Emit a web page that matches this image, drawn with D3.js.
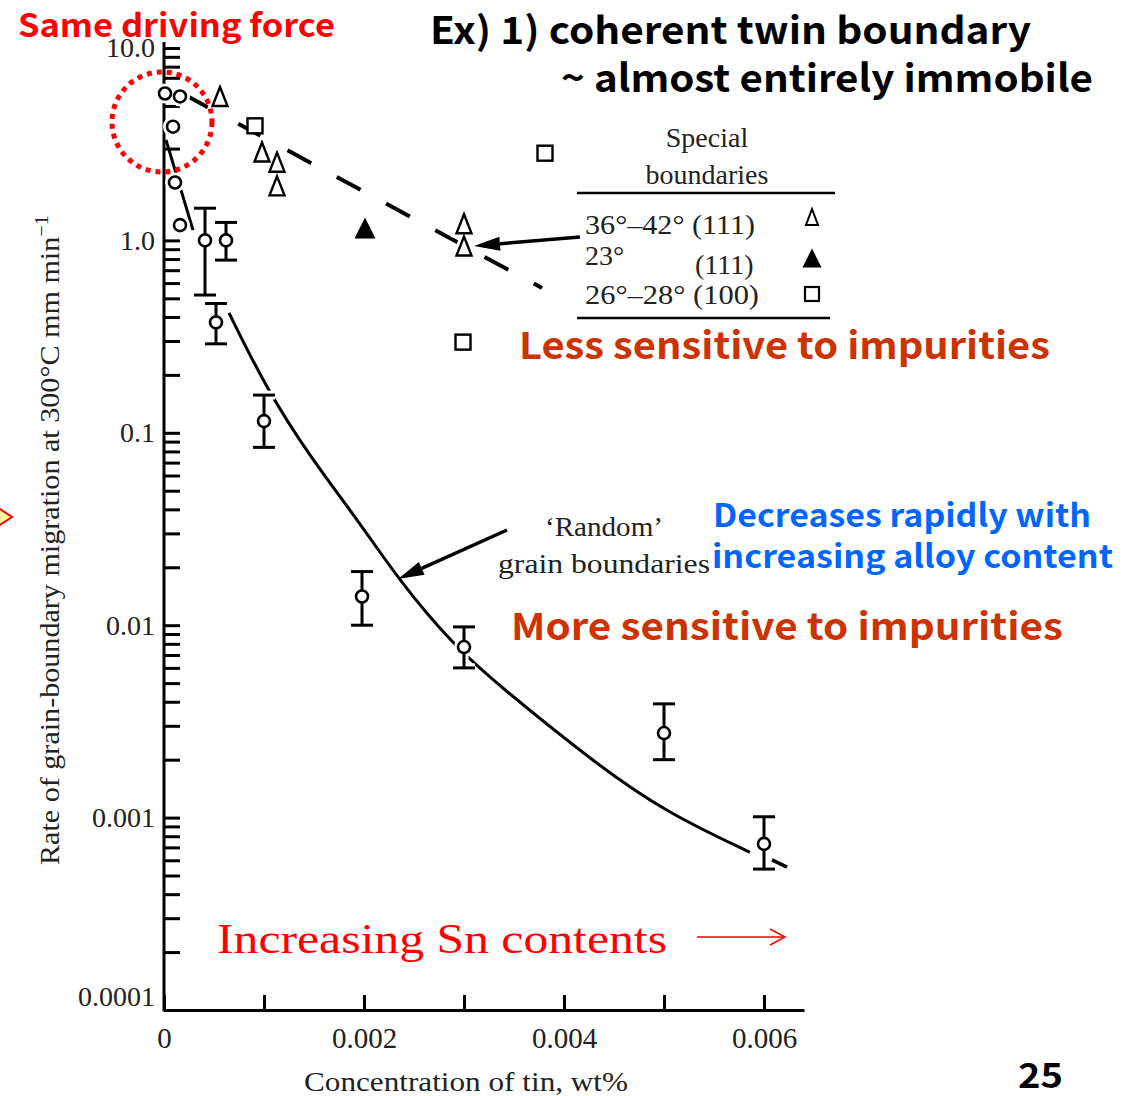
<!DOCTYPE html>
<html>
<head>
<title>Grain boundary migration vs tin</title>
<style>
  body, html { margin: 0; padding: 0; background: #fff; }
</style>
</head>
<body>
<svg id="svg" width="1135" height="1096"></svg>
<script src="https://d3js.org/d3.v7.min.js"></script>
<script>
// 'Random' grain boundaries (open circles), rate in mm/min, with error bars
const randomX    = [0.00001, 0.00016, 0.00009, 0.00011, 0.00016, 0.00041, 0.00062, 0.00052, 0.001, 0.00198, 0.003, 0.005, 0.006]
const randomRate = [5.8, 5.6, 3.9, 2.0, 1.2, 1.0, 1.0, 0.375, 0.115, 0.0141, 0.0077, 0.00275, 0.00073]
const randomLow  = [null, null, null, null, null, 0.52, 0.79, 0.29, 0.084, 0.010, 0.0060, 0.0020, 0.00054]
const randomHigh = [null, null, null, null, null, 1.47, 1.24, 0.47, 0.157, 0.019, 0.0098, 0.0039, 0.00101]

// special boundaries
const tri3642X    = [0.00056, 0.00098, 0.00113, 0.00113, 0.003, 0.003]
const tri3642Rate = [5.6, 2.88, 2.55, 1.92, 1.22, 0.935]
const tri23X      = [0.00201]
const tri23Rate   = [1.16]
const sq2628X     = [0.00091, 0.00381, 0.00299]
const sq2628Rate  = [3.94, 2.84, 0.296]

// fitted curves
const steepCurveX    = [0.00002, 0.00029]
const steepCurveRate = [3.33, 1.13]
const mainCurveX     = [0.00065, 0.00101, 0.00146, 0.00196, 0.00234, 0.00289, 0.00336, 0.00436, 0.00503, 0.00586]
const mainCurveRate  = [0.42, 0.175, 0.0748, 0.034, 0.0174, 0.0079, 0.0048, 0.00183, 0.00106, 0.00066]
const tailCurveX     = [0.00608, 0.00623]
const tailCurveRate  = [0.000603, 0.000553]
const specialLineX    = [0.00025, 0.00378]
const specialLineRate = [5.56, 0.566]

// axes
const yTickValues = [0.0001, 0.001, 0.01, 0.1, 1, 10]
const yTickLabels = ['0.0001', '0.001', '0.01', '0.1', '1.0', '10.0']
const xTickValues = [0, 0.001, 0.002, 0.003, 0.004, 0.005, 0.006]
const xTickLabels = ['0', '', '0.002', '', '0.004', '', '0.006']

const legendLabels = ['36°–42° (111)', '23°', '26°–28° (100)']

const serif = 'Liberation Serif'
const sans = '"Noto Sans CJK KR", "Noto Sans", sans-serif'

const svg = d3.select('#svg')

const x = d3.scaleLinear().domain([0, 0.0064]).range([164, 804])
const y = d3.scaleLog().domain([0.0001, 10]).range([1010, 48])

// ---- axes ----
const yAxis = svg.append('g')
  .attr('transform', 'translate(164,0)')
  .call(d3.axisRight(y).tickFormat('').tickSize(16).tickSizeOuter(0))
yAxis.select('.domain').remove()
yAxis.selectAll('line').attr('stroke', '#000').attr('stroke-width', 3)

svg.append('line')
  .attr('x1', 164).attr('x2', 164)
  .attr('y1', 42).attr('y2', 1011.5)
  .attr('stroke', '#000').attr('stroke-width', 3)

const yLabels = svg.append('g')
  .attr('transform', 'translate(164,0)')
  .call(d3.axisLeft(y).tickValues(yTickValues)
    .tickFormat((d, i) => yTickLabels[i]).tickSize(0).tickPadding(9))
yLabels.select('.domain').remove()
yLabels.selectAll('text')
  .attr('font-family', serif)
  .attr('font-size', 28)
  .attr('fill', '#222')
  .attr('dy', (d, i) => i === 0 ? '-0.15em' : '0.32em')

const xAxis = svg.append('g')
  .attr('transform', 'translate(0,1010)')
  .call(d3.axisBottom(x).tickValues(xTickValues)
    .tickFormat((d, i) => xTickLabels[i]).tickSize(-15).tickSizeOuter(0).tickPadding(17))
xAxis.select('.domain').attr('stroke', '#000').attr('stroke-width', 3)
xAxis.selectAll('line').attr('stroke', '#000').attr('stroke-width', 3)
xAxis.selectAll('text')
  .attr('font-family', serif)
  .attr('font-size', 29)
  .attr('fill', '#222')

svg.append('text')
  .attr('x', 304).attr('y', 1091)
  .attr('font-family', serif)
  .attr('font-size', 28).attr('fill', '#222')
  .attr('textLength', 324).attr('lengthAdjust', 'spacingAndGlyphs')
  .text('Concentration of tin, wt%')

const ylab = svg.append('text')
  .attr('transform', 'translate(59,865) rotate(-90)')
  .attr('font-family', serif)
  .attr('font-size', 28).attr('fill', '#222')
  .attr('textLength', 650).attr('lengthAdjust', 'spacingAndGlyphs')
ylab.append('tspan').text('Rate of grain-boundary migration at 300°C mm min')
ylab.append('tspan').attr('dy', -11).attr('font-size', 19).text('−1')

// ---- curves ----
const smooth = d3.line().x(d => x(d[0])).y(d => y(d[1])).curve(d3.curveBasis)
const straight = d3.line().x(d => x(d[0])).y(d => y(d[1]))
const pairs = (xs, ys) => xs.map((v, i) => [v, ys[i]])

svg.append('path').datum(pairs(steepCurveX, steepCurveRate))
  .attr('d', straight).attr('fill', 'none').attr('stroke', '#000').attr('stroke-width', 3)
svg.append('path').datum(pairs(mainCurveX, mainCurveRate))
  .attr('d', smooth).attr('fill', 'none').attr('stroke', '#000').attr('stroke-width', 3)
svg.append('path').datum(pairs(tailCurveX, tailCurveRate))
  .attr('d', straight).attr('fill', 'none').attr('stroke', '#000').attr('stroke-width', 3.5)
svg.append('path').datum(pairs(specialLineX, specialLineRate))
  .attr('d', straight)
  .attr('fill', 'none').attr('stroke', '#000').attr('stroke-width', 4)
  .attr('stroke-dasharray', '27,29')

// ---- markers ----
const randomPts = randomX.map((v, i) => ({ x: v, r: randomRate[i], lo: randomLow[i], hi: randomHigh[i] }))
const withErr = randomPts.filter(d => d.lo !== null)

function drawErrorBars(g, color, width) {
  g.selectAll(null).data(withErr).enter().append('line')
    .attr('x1', d => x(d.x)).attr('x2', d => x(d.x))
    .attr('y1', d => y(d.lo)).attr('y2', d => y(d.hi))
    .attr('stroke', color).attr('stroke-width', width)
  ;['lo', 'hi'].forEach(k => {
    g.selectAll(null).data(withErr).enter().append('line')
      .attr('x1', d => x(d.x) - 11).attr('x2', d => x(d.x) + 11)
      .attr('y1', d => y(d[k])).attr('y2', d => y(d[k]))
      .attr('stroke', color).attr('stroke-width', width)
  })
}

const triPath = (w, h) => `M0,${-h / 2}L${w / 2},${h / 2}L${-w / 2},${h / 2}Z`

// white halos so that curves break around the symbols
const halo = svg.append('g')
drawErrorBars(halo, '#fff', 9)
halo.selectAll(null).data(randomPts).enter().append('circle')
  .attr('cx', d => x(d.x)).attr('cy', d => y(d.r)).attr('r', 10).attr('fill', '#fff')
halo.selectAll(null).data(pairs(tri3642X, tri3642Rate)).enter().append('path')
  .attr('transform', d => `translate(${x(d[0])},${y(d[1])})`)
  .attr('d', triPath(15, 19)).attr('fill', '#fff').attr('stroke', '#fff').attr('stroke-width', 8)

const marks = svg.append('g')
drawErrorBars(marks, '#000', 3)
marks.selectAll(null).data(randomPts).enter().append('circle')
  .attr('cx', d => x(d.x)).attr('cy', d => y(d.r)).attr('r', 6)
  .attr('fill', '#fff').attr('stroke', '#000').attr('stroke-width', 2.6)

marks.selectAll(null).data(pairs(tri3642X, tri3642Rate)).enter().append('path')
  .attr('transform', d => `translate(${x(d[0])},${y(d[1])})`)
  .attr('d', triPath(15, 19)).attr('fill', '#fff').attr('stroke', '#000').attr('stroke-width', 2.4)

marks.selectAll(null).data(pairs(tri23X, tri23Rate)).enter().append('path')
  .attr('transform', d => `translate(${x(d[0])},${y(d[1])})`)
  .attr('d', triPath(21, 21)).attr('fill', '#000')

marks.selectAll(null).data(pairs(sq2628X, sq2628Rate)).enter().append('rect')
  .attr('x', d => x(d[0]) - 7.5).attr('y', d => y(d[1]) - 7.5)
  .attr('width', 15).attr('height', 15)
  .attr('fill', '#fff').attr('stroke', '#000').attr('stroke-width', 2.4)

// ---- legend ----
const lg = svg.append('g').attr('font-family', serif).attr('fill', '#222').attr('font-size', 28)
lg.append('text').attr('x', 707).attr('y', 147).attr('text-anchor', 'middle').text('Special')
lg.append('text').attr('x', 707).attr('y', 184).attr('text-anchor', 'middle').text('boundaries')
lg.append('line').attr('x1', 577).attr('x2', 835).attr('y1', 193).attr('y2', 193)
  .attr('stroke', '#000').attr('stroke-width', 2.5)
lg.append('line').attr('x1', 577).attr('x2', 830).attr('y1', 318).attr('y2', 318)
  .attr('stroke', '#000').attr('stroke-width', 2.5)
lg.append('text').attr('x', 585).attr('y', 234)
  .attr('textLength', 170).attr('lengthAdjust', 'spacingAndGlyphs').text(legendLabels[0])
lg.append('text').attr('x', 585).attr('y', 265).text(legendLabels[1])
lg.append('text').attr('x', 695).attr('y', 274).text('(111)')
lg.append('text').attr('x', 585).attr('y', 304)
  .attr('textLength', 174).attr('lengthAdjust', 'spacingAndGlyphs').text(legendLabels[2])
lg.append('path').attr('transform', 'translate(812,217)').attr('d', triPath(12, 16))
  .attr('fill', '#fff').attr('stroke', '#000').attr('stroke-width', 2)
lg.append('path').attr('transform', 'translate(812,258)').attr('d', triPath(19, 19)).attr('fill', '#000')
lg.append('rect').attr('x', 805).attr('y', 287).attr('width', 14).attr('height', 14)
  .attr('fill', '#fff').attr('stroke', '#000').attr('stroke-width', 2.2)

// ---- arrows ----
function arrow(x1, y1, x2, y2, color, w, headLen, headW) {
  const a = Math.atan2(y2 - y1, x2 - x1)
  const bx = x2 - headLen * Math.cos(a), by = y2 - headLen * Math.sin(a)
  svg.append('line').attr('x1', x1).attr('y1', y1).attr('x2', bx).attr('y2', by)
    .attr('stroke', color).attr('stroke-width', w)
  const px = Math.sin(a) * headW / 2, py = -Math.cos(a) * headW / 2
  svg.append('path')
    .attr('d', `M${x2},${y2}L${bx + px},${by + py}L${bx - px},${by - py}Z`)
    .attr('fill', color)
}
arrow(580, 237, 474, 246, '#000', 3.5, 26, 14)
arrow(507, 530, 398, 579, '#000', 3.5, 26, 14)

svg.append('text').attr('x', 545).attr('y', 536)
  .attr('font-family', serif).attr('font-size', 27).attr('fill', '#222')
  .attr('textLength', 118).attr('lengthAdjust', 'spacingAndGlyphs')
  .text('‘Random’')
svg.append('text').attr('x', 498).attr('y', 573)
  .attr('font-family', serif).attr('font-size', 27).attr('fill', '#222')
  .attr('textLength', 212).attr('lengthAdjust', 'spacingAndGlyphs')
  .text('grain boundaries')

// ---- slide annotations ----
function note(txt, x0, yb, size, color, len) {
  svg.append('text').attr('x', x0).attr('y', yb)
    .style('font-family', sans).attr('font-weight', 'bold')
    .attr('font-size', size).attr('fill', color)
    .attr('textLength', len).attr('lengthAdjust', 'spacingAndGlyphs')
    .text(txt)
}
note('Same driving force', 18, 37, 32, '#ff0000', 317)
note('Ex) 1) coherent twin boundary', 430, 44, 38, '#000', 601)
note('~ almost entirely immobile', 561, 92, 38, '#000', 532)
note('Less sensitive to impurities', 519, 359, 37, '#cc3300', 531)
note('Decreases rapidly with', 713, 527, 32, '#0066ff', 378)
note('increasing alloy content', 712, 568, 32, '#0066ff', 401)
note('More sensitive to impurities', 511, 640, 37, '#cc3300', 552)
note('25', 1018, 1088, 34, '#000', 45)

svg.append('text').attr('x', 217).attr('y', 953)
  .attr('font-family', serif).attr('font-size', 42).attr('fill', '#ff0000')
  .attr('textLength', 450).attr('lengthAdjust', 'spacingAndGlyphs')
  .text('Increasing Sn contents')
svg.append('line').attr('x1', 697).attr('x2', 784).attr('y1', 937).attr('y2', 937)
  .attr('stroke', '#ff0000').attr('stroke-width', 1.5)
svg.append('path').attr('d', 'M770,929L785,937L770,945')
  .attr('fill', 'none').attr('stroke', '#ff0000').attr('stroke-width', 1.5)

// red dotted circle
svg.append('circle').attr('cx', 162).attr('cy', 122).attr('r', 50)
  .attr('fill', 'none').attr('stroke', '#ff0000').attr('stroke-width', 5)
  .attr('stroke-dasharray', '5,5')

// cropped yellow arrow at the left edge
svg.append('path').attr('d', 'M-20,496L12,517L-20,538Z')
  .attr('fill', '#fff4a3').attr('stroke', '#ff0000').attr('stroke-width', 2)
</script>
</body>
</html>
